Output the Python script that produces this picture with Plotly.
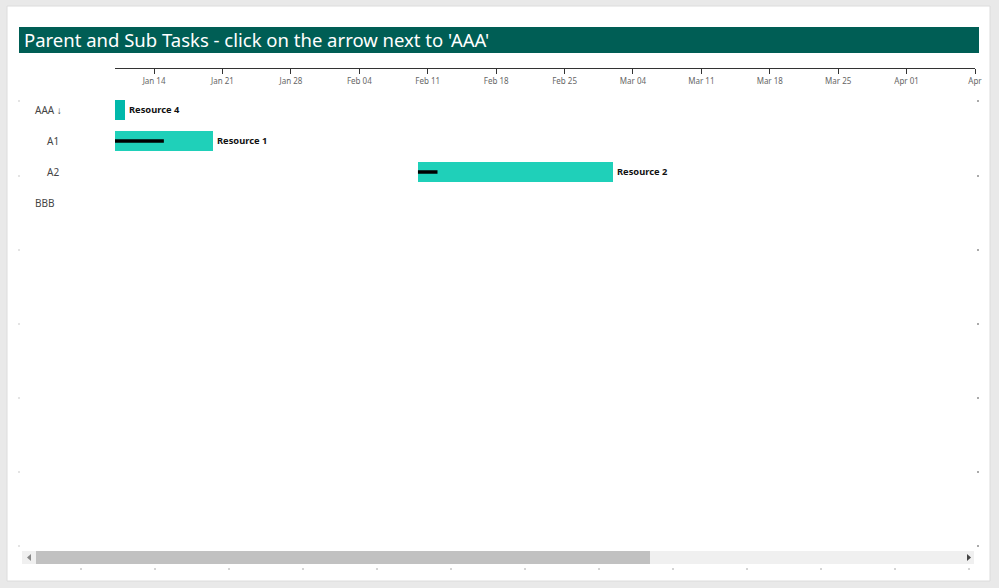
import plotly.graph_objects as go
import pandas as pd

# ---- data ----
tasks = ["AAA \u2193", "A1", "A2", "BBB"]
task_indent = [0, 1, 1, 0]
starts = ["2019-01-10", "2019-01-10", "2019-02-10", None]
ends = ["2019-01-11", "2019-01-20", "2019-03-02", None]
progress = [0.0, 0.5, 0.1, None]
resources = ["Resource 4", "Resource 1", "Resource 2", ""]
tick_dates = pd.date_range("2019-01-14", "2019-04-08", freq="7D")
tick_labels = [d.strftime("%b %d") for d in tick_dates]
tick_labels[-1] = "Apr"

# ---- styles ----
W, H = 999, 588
bar_colors = ["#01B8AA", "#1FD0B9", "#1FD0B9", "#1FD0B9"]
FONT = "Segoe UI, Noto Sans, sans-serif"

def px_x(p):
    return p / W

def px_y(p):
    return 1 - p / H

fig = go.Figure()

rows = list(range(len(tasks)))
for i in rows:
    if starts[i] is None:
        continue
    s = pd.Timestamp(starts[i])
    e = pd.Timestamp(ends[i])
    dur_ms = (e - s).total_seconds() * 1000
    fig.add_trace(go.Bar(
        y=[i], x=[dur_ms], base=[starts[i]], orientation="h",
        marker=dict(color=bar_colors[i], line=dict(width=0)),
        width=0.645, showlegend=False, hoverinfo="skip",
    ))
    if progress[i]:
        pe = s + (e - s) * progress[i]
        fig.add_trace(go.Scatter(
            x=[s, pe], y=[i, i], mode="lines",
            line=dict(color="black", width=3.5),
            showlegend=False, hoverinfo="skip",
        ))
    fig.add_annotation(
        x=ends[i], y=i, xref="x", yref="y", text=f"<b>{resources[i]}</b>",
        showarrow=False, xanchor="left", yanchor="middle", xshift=2, yshift=1,
        font=dict(family=FONT, size=9.3, color="#111"),
    )

# row labels
for i in rows:
    fig.add_annotation(
        x=px_x(33 + 12 * task_indent[i]), y=i, xref="paper", yref="y",
        text=tasks[i], showarrow=False, xanchor="left", yanchor="middle",
        font=dict(family=FONT, size=10, color="#444"),
    )

shapes = []
# white card
shapes.append(dict(type="rect", xref="paper", yref="paper", layer="below",
                   x0=px_x(7), x1=px_x(990), y0=px_y(581), y1=px_y(6),
                   fillcolor="white", line=dict(color="#DCDCDC", width=1)))
# title bar
shapes.append(dict(type="rect", xref="paper", yref="paper", layer="below",
                   x0=px_x(19), x1=px_x(979), y0=px_y(53), y1=px_y(27),
                   fillcolor="#005E55", line=dict(width=0)))
# scrollbar track and thumb
shapes.append(dict(type="rect", xref="paper", yref="paper",
                   x0=px_x(22), x1=px_x(974), y0=px_y(564), y1=px_y(551),
                   fillcolor="#F0F0F0", line=dict(width=0)))
shapes.append(dict(type="rect", xref="paper", yref="paper",
                   x0=px_x(36), x1=px_x(650), y0=px_y(564), y1=px_y(551),
                   fillcolor="#C1C1C1", line=dict(width=0)))
# arrows
shapes.append(dict(type="path", xref="paper", yref="paper",
                   path=f"M {px_x(31)} {px_y(554)} L {px_x(27)} {px_y(557.5)} L {px_x(31)} {px_y(561)} Z",
                   fillcolor="#888", line=dict(width=0)))
shapes.append(dict(type="path", xref="paper", yref="paper",
                   path=f"M {px_x(967)} {px_y(554)} L {px_x(971)} {px_y(557.5)} L {px_x(967)} {px_y(561)} Z",
                   fillcolor="#444", line=dict(width=0)))
# small bottom marks
for bx in [81, 155, 229, 303, 377, 451, 525, 599, 673, 747, 821, 895, 969]:
    shapes.append(dict(type="line", xref="paper", yref="paper",
                       x0=px_x(bx), x1=px_x(bx), y0=px_y(570), y1=px_y(568),
                       line=dict(color="#AAAAAA", width=1)))
# small side dots
for dy in [101, 176, 250, 324, 398, 472, 546]:
    shapes.append(dict(type="rect", xref="paper", yref="paper",
                       x0=px_x(977), x1=px_x(979), y0=px_y(dy + 1), y1=px_y(dy - 1),
                       fillcolor="#AAAAAA", line=dict(width=0)))
    shapes.append(dict(type="rect", xref="paper", yref="paper",
                       x0=px_x(18), x1=px_x(20), y0=px_y(dy + 1), y1=px_y(dy - 1),
                       fillcolor="#E4E4E4", line=dict(width=0)))

fig.add_annotation(
    x=px_x(22), y=px_y(40), xref="paper", yref="paper",
    text="Parent and Sub Tasks - click on the arrow next to 'AAA'",
    showarrow=False, xanchor="left", yanchor="middle",
    font=dict(family=FONT, size=18.5, color="white"),
)

y_top, y_bot = 68, 545
fig.update_layout(
    width=W, height=H, autosize=False,
    margin=dict(l=0, r=0, t=0, b=0, pad=0, autoexpand=False),
    paper_bgcolor="#E9E9E9", plot_bgcolor="rgba(0,0,0,0)",
    shapes=shapes, bargap=0, barmode="overlay",
    xaxis=dict(
        type="date", domain=[px_x(115), px_x(975)],
        range=["2019-01-10", "2019-04-08"],
        anchor="free", position=px_y(y_top), side="bottom",
        showline=True, linecolor="#333", linewidth=1,
        ticks="outside", ticklen=5, tickcolor="#333", tickwidth=1,
        tickvals=list(tick_dates), ticktext=tick_labels,
        tickfont=dict(family=FONT, size=8, color="#666"),
        showgrid=False, zeroline=False, fixedrange=True, automargin=False,
    ),
    yaxis=dict(
        domain=[px_y(y_bot), px_y(y_top)],
        range=[(y_bot - 110) / 31, (y_top - 110) / 31],
        visible=False, showgrid=False, zeroline=False, fixedrange=True,
        automargin=False,
    ),
)

fig.write_html("out.html", config={"displayModeBar": False})
